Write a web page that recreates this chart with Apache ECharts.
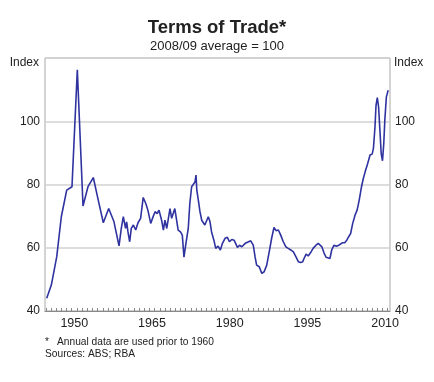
<!DOCTYPE html>
<html>
<head>
<meta charset="utf-8">
<script src="https://cdn.jsdelivr.net/npm/echarts@6/dist/echarts.min.js"></script>
<style>
html,body{margin:0;padding:0;background:#fff;}
#chart{width:434px;height:382px;}
</style>
</head>
<body>
<div id="chart"></div>
<script>
// Decimal-year positions of each observation (annual before 1960, then roughly quarterly)
var years = [
  1945.17, 1946.06, 1947.10, 1947.99, 1949.03, 1950.05, 1951.08, 1952.18, 1953.14, 1954.17,
  1955.13, 1956.10, 1957.14, 1958.16, 1959.13,
  1959.57, 1959.96, 1960.20, 1960.40, 1960.60, 1960.86, 1961.19, 1961.50, 1961.90, 1962.35,
  1962.80, 1963.30, 1963.80, 1964.30, 1964.70, 1965.25, 1965.75, 1966.10, 1966.50, 1966.85,
  1967.04, 1967.35, 1967.70, 1968.00, 1968.35, 1968.97, 1969.30, 1969.90, 1970.25, 1970.55,
  1971.00, 1971.35, 1971.67, 1972.05, 1972.50, 1972.80, 1973.15, 1973.45, 1973.80, 1974.00,
  1974.15, 1974.45, 1974.76, 1975.10, 1975.70, 1976.37, 1976.70, 1977.00, 1977.45, 1977.80,
  1978.25, 1978.70, 1979.10, 1979.60, 1980.05, 1980.45, 1980.90, 1981.35, 1981.60, 1982.00,
  1982.40, 1982.85, 1983.50, 1984.15, 1984.55, 1985.05, 1985.40, 1985.70, 1986.20, 1986.70,
  1987.15, 1987.65, 1988.20, 1988.60, 1989.05, 1989.45, 1989.90, 1990.35, 1990.85, 1991.35,
  1991.80, 1992.30, 1992.80, 1993.30, 1993.75, 1994.20, 1994.60, 1994.85, 1995.25, 1995.65,
  1996.10, 1996.60, 1997.16, 1997.60, 1997.95, 1998.30, 1998.70, 1999.10, 1999.40, 1999.85,
  2000.20, 2000.65, 2001.10, 2001.55, 2001.90, 2002.30, 2002.70, 2003.10, 2003.40, 2003.85,
  2004.25, 2004.70, 2005.10, 2005.50, 2005.95, 2006.30, 2006.65, 2007.10, 2007.60, 2008.00,
  2008.25, 2008.55, 2008.75, 2009.00, 2009.25, 2009.50, 2009.75, 2010.00, 2010.25, 2010.45,
  2010.75, 2011.10
];
var tot = [
  44.0, 48.2, 57.1, 69.8, 78.2, 79.3, 116.3, 73.2, 79.3, 82.2,
  75.0, 67.9, 72.4, 68.2, 60.6,
  66.1, 69.8, 69.3, 66.1, 68.2, 65.0, 61.9, 66.1, 67.2, 65.6,
  67.9, 69.3, 75.9, 74.0, 71.9, 67.7, 70.0, 71.4, 70.8, 71.9,
  71.9, 68.7, 65.6, 68.7, 66.1, 72.4, 69.3, 72.4, 68.7, 65.6,
  65.0, 64.0, 57.0, 61.4, 66.1, 74.0, 79.3, 79.8, 80.8, 83.0,
  78.2, 75.0, 71.4, 68.7, 67.2, 69.8, 68.2, 65.0, 62.4, 59.8,
  60.5, 59.3, 61.4, 63.0, 63.3, 61.9, 62.6, 62.4, 62.6, 60.1,
  60.8, 60.3, 61.4, 61.9, 62.2, 60.8, 57.1, 54.5, 54.0, 51.9,
  52.4, 54.5, 59.3, 63.0, 66.4, 65.4, 65.6, 64.0, 61.9, 60.3,
  59.8, 59.3, 58.7, 57.1, 55.6, 55.3, 55.6, 56.6, 58.0, 57.4,
  58.4, 59.8, 60.8, 61.4, 61.2, 60.3, 58.4, 57.0, 57.1, 56.6,
  59.3, 60.8, 60.5, 60.8, 60.8, 61.6, 61.6, 62.4, 63.3, 64.5,
  67.7, 70.3, 71.9, 75.0, 79.3, 81.9, 84.0, 86.4, 89.3, 89.6,
  91.4, 98.2, 105.0, 107.5, 104.5, 97.2, 89.8, 87.5, 93.0, 100.3,
  107.7, 109.8, 110.8
];
var xLabelYears = [1950, 1965, 1980, 1995, 2010];
var yTicks = [40, 60, 80, 100, 120];

var data = years.map(function (y, i) { return [y, tot[i]]; });
var tickVals = [];
for (var t = 1945; t <= 2011; t++) tickVals.push(t);
var labelVals = xLabelYears.map(function (y) { return y + 0.5; });

var FONT = 'Liberation Sans, Arial, Helvetica, sans-serif';
var chart = echarts.init(document.getElementById('chart'), null, {renderer: 'canvas'});

var yAxisCommon = {
  type: 'value', min: yTicks[0], max: yTicks[yTicks.length - 1], interval: 20,
  axisLine: {show: false}, axisTick: {show: false},
  axisLabel: {
    color: '#222', fontSize: 12, fontFamily: FONT, margin: 5,
    formatter: function (v) { return v === 120 ? '' : String(v); }
  }
};

chart.setOption({
  animation: false,
  backgroundColor: '#fff',
  title: {
    text: 'Terms of Trade*',
    subtext: '2008/09 average = 100',
    left: 'center', top: 13, itemGap: 3,
    textStyle: {fontSize: 18.5, fontWeight: 'bold', color: '#222', fontFamily: FONT},
    subtextStyle: {fontSize: 13, color: '#222', fontFamily: FONT}
  },
  grid: {
    left: 45, right: 44, top: 58, bottom: 71,
    show: true, borderColor: '#a8a8a8', borderWidth: 1, backgroundColor: 'transparent'
  },
  xAxis: {
    type: 'value', min: 1944.84, max: 2011.45,
    axisLine: {show: true, lineStyle: {color: '#888', width: 1.2}},
    axisTick: {show: true, inside: true, length: 3, customValues: tickVals, lineStyle: {color: '#888'}},
    axisLabel: {
      show: true, customValues: labelVals, color: '#222', fontSize: 12.5, fontFamily: FONT, margin: 6,
      formatter: function (v) { return String(Math.floor(v)); }
    },
    splitLine: {show: false}
  },
  yAxis: [
    Object.assign({}, yAxisCommon, {position: 'left',
      splitLine: {show: true, lineStyle: {color: '#d2d2d2', width: 1.6}}}),
    Object.assign({}, yAxisCommon, {position: 'right', splitLine: {show: false}})
  ],
  series: [{
    type: 'line', data: data, showSymbol: false, symbol: 'none',
    lineStyle: {color: '#2f33a0', width: 1.6}, z: 3
  }],
  graphic: [
    {type: 'text', right: 395, top: 57, style: {text: 'Index', fill: '#222', font: '12px ' + FONT, textAlign: 'right'}},
    {type: 'text', left: 394, top: 57, style: {text: 'Index', fill: '#222', font: '12px ' + FONT}},
    {type: 'text', left: 45, top: 337, style: {text: '*', fill: '#222', font: '10px ' + FONT}},
    {type: 'text', left: 57, top: 337, style: {text: 'Annual data are used prior to 1960', fill: '#222', font: '10.2px ' + FONT}},
    {type: 'text', left: 45, top: 349, style: {text: 'Sources: ABS; RBA', fill: '#222', font: '10.2px ' + FONT}}
  ]
});
</script>
</body>
</html>
